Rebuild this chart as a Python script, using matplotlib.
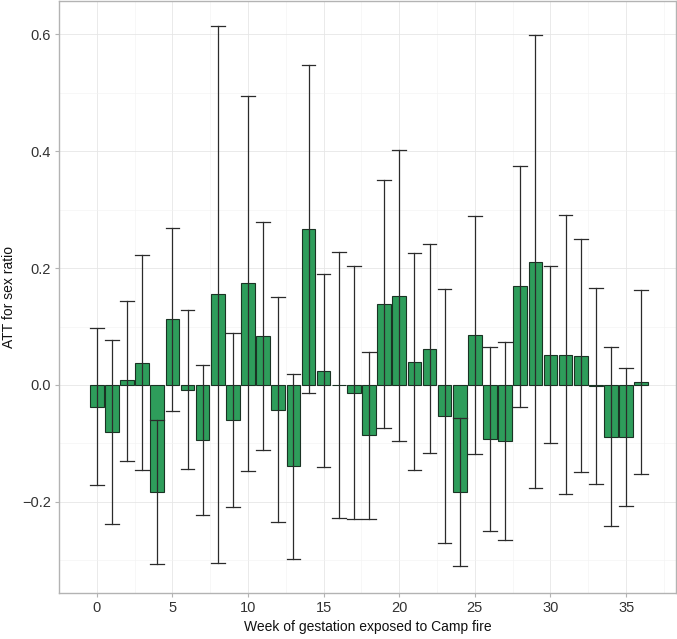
import matplotlib

matplotlib.use("Agg")
import matplotlib.pyplot as plt
import numpy as np

# weekly ATT estimates with confidence limits
weeks = list(range(37))
att = [-0.038, -0.080, 0.008, 0.038, -0.183, 0.112, -0.008, -0.094, 0.155, -0.060,
       0.174, 0.083, -0.043, -0.139, 0.267, 0.024, 0.000, -0.013, -0.086, 0.138,
       0.153, 0.040, 0.062, -0.053, -0.183, 0.085, -0.093, -0.096, 0.169, 0.211,
       0.051, 0.052, 0.050, -0.002, -0.089, -0.089, 0.005]
ci_low = [-0.172, -0.238, -0.130, -0.146, -0.306, -0.044, -0.144, -0.222, -0.305, -0.209,
          -0.147, -0.112, -0.235, -0.297, -0.013, -0.141, -0.228, -0.229, -0.229, -0.074,
          -0.096, -0.145, -0.117, -0.271, -0.310, -0.119, -0.250, -0.265, -0.037, -0.176,
          -0.100, -0.187, -0.149, -0.169, -0.242, -0.207, -0.153]
ci_high = [0.097, 0.077, 0.144, 0.222, -0.060, 0.268, 0.129, 0.034, 0.614, 0.089,
           0.495, 0.279, 0.150, 0.018, 0.548, 0.190, 0.227, 0.203, 0.057, 0.350,
           0.402, 0.225, 0.241, 0.165, -0.057, 0.289, 0.065, 0.074, 0.375, 0.598,
           0.203, 0.290, 0.250, 0.166, 0.065, 0.029, 0.163]

x_ticks = [0, 5, 10, 15, 20, 25, 30, 35]
y_ticks = [-0.2, 0.0, 0.2, 0.4, 0.6]

font = ["Liberation Sans", "DejaVu Sans"]

fig = plt.figure(figsize=(6.77, 6.39), dpi=100)
ax = fig.add_axes([59 / 677, 46 / 639, 617 / 677, 592 / 639])

ax.bar(weeks, att, width=0.9, color="#2E9D5B", edgecolor="#1A3324", linewidth=0.8, zorder=3)

w = 0.9
for x, lo, hi in zip(weeks, ci_low, ci_high):
    ax.plot([x, x], [lo, hi], color="#2B2B2B", lw=0.9, zorder=4)
    ax.plot([x - w / 2, x + w / 2], [lo, lo], color="#2B2B2B", lw=0.9, zorder=4)
    ax.plot([x - w / 2, x + w / 2], [hi, hi], color="#2B2B2B", lw=0.9, zorder=4)

ax.set_xlim(-2.3, 38.3)
ax.set_ylim(-0.356, 0.657)
ax.set_xticks(x_ticks)
ax.set_yticks(y_ticks)
ax.set_xticklabels([str(t) for t in x_ticks], family=font, fontsize=10.5, color="#333333")
ax.set_yticklabels([f"{t:.1f}".replace("-", "\u2212") for t in y_ticks], family=font,
                   fontsize=10.5, color="#333333")
ax.set_xticks(np.arange(-2.5, 40, 5), minor=True)
ax.set_yticks(np.arange(-0.3, 0.65, 0.2), minor=True)
ax.tick_params(which="major", length=3, color="#B3B3B3", width=0.8, pad=3)
ax.tick_params(which="minor", length=0)
ax.grid(which="major", color="#E6E6E6", lw=0.6, zorder=0)
ax.grid(which="minor", color="#F2F2F2", lw=0.4, zorder=0)
ax.set_axisbelow(True)
for s in ax.spines.values():
    s.set_color("#B3B3B3")
    s.set_linewidth(1.0)

ax.set_xlabel("Week of gestation exposed to Camp fire", family=font, fontsize=10,
              color="#111111")
ax.set_ylabel("ATT for sex ratio", family=font, fontsize=10, color="#111111")
ax.xaxis.set_label_coords(0.5, -27 / 592)
ax.yaxis.set_label_coords(-43 / 617, 0.5)

fig.savefig("out.png", dpi=100)
